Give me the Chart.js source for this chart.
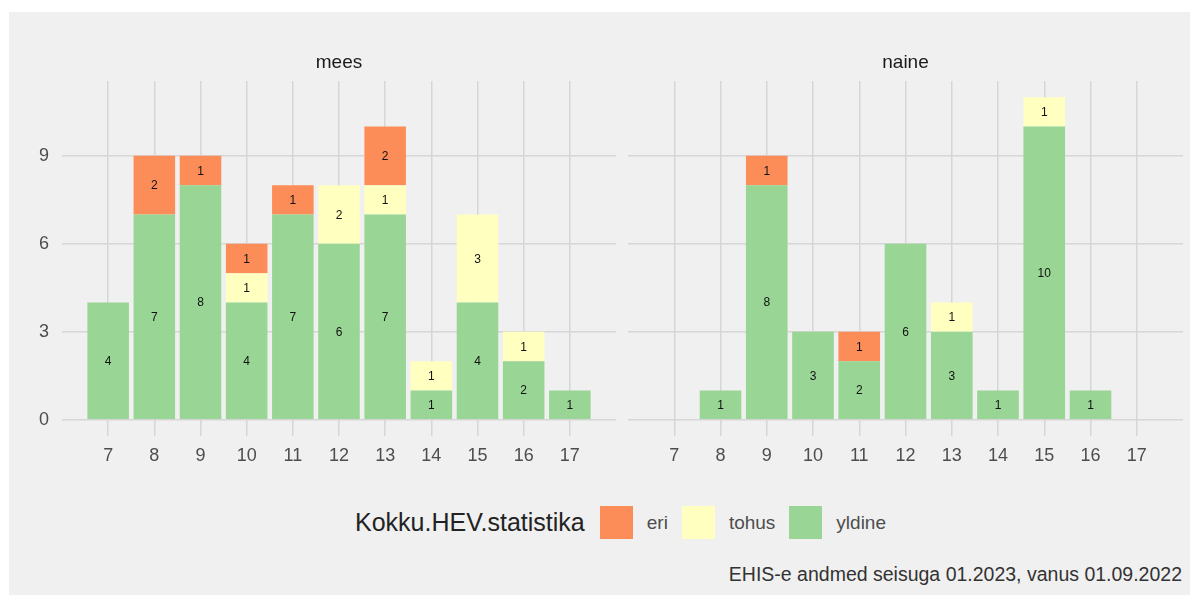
<!DOCTYPE html>
<html>
<head>
<meta charset="utf-8">
<script src="https://cdn.jsdelivr.net/npm/chart.js@4.4.1/dist/chart.umd.min.js"></script>
<style>
  body { margin: 0; background: #ffffff; font-family: "Liberation Sans", Arial, sans-serif; }
  #panel { position: absolute; left: 9px; top: 12px; width: 1181px; height: 583px; background: #f0f0f0; }
  canvas { position: absolute; }
  #legend { position: absolute; left: 355px; top: 506px; height: 33px; display: flex; align-items: center; white-space: nowrap; }
  #legend .title { font-size: 25px; margin-right: 15px; color: #222222; }
  #legend .key { width: 33px; height: 33px; margin-right: 14px; }
  #legend .lab { font-size: 19px; margin-right: 14px; color: #4d4d4d; }
  #caption { position: absolute; right: 17px; top: 563px; font-size: 19.5px; color: #333333; white-space: nowrap; }
</style>
</head>
<body>
<div id="panel"></div>
<canvas id="chart_mees" width="609" height="454" style="left:9px; top:12px;"></canvas>
<canvas id="chart_naine" width="564" height="454" style="left:621px; top:12px;"></canvas>
<div id="legend">
  <span class="title">Kokku.HEV.statistika</span>
  <span class="key" style="background:#fc8d59"></span><span class="lab">eri</span>
  <span class="key" style="background:#ffffbf"></span><span class="lab">tohus</span>
  <span class="key" style="background:#99d594"></span><span class="lab">yldine</span>
</div>
<div id="caption">EHIS-e andmed seisuga 01.2023, vanus 01.09.2022</div>
<script>
// ages on the x axis
const ages = [7, 8, 9, 10, 11, 12, 13, 14, 15, 16, 17];
const yTicks = [0, 3, 6, 9];

// mees
const mees_yldine = [4, 7, 8, 4, 7, 6, 7, 1, 4, 2, 1];
const mees_tohus  = [0, 0, 0, 1, 0, 2, 1, 1, 3, 1, 0];
const mees_eri    = [0, 2, 1, 1, 1, 0, 2, 0, 0, 0, 0];

// naine
const naine_yldine = [0, 1, 8, 3, 2, 6, 3, 1, 10, 1, 0];
const naine_tohus  = [0, 0, 0, 0, 0, 0, 1, 0, 1, 0, 0];
const naine_eri    = [0, 0, 1, 0, 1, 0, 0, 0, 0, 0, 0];

const colors = {
    eri: '#fc8d59',
    tohus: '#ffffbf',
    yldine: '#99d594'
};
const gridColor = 'rgb(214, 214, 214)';
const fontFamily = '"Liberation Sans", Arial, sans-serif';

function toPoints(values) {
    return values.map((v, i) => ({x: ages[i], y: v}));
}

// numbers in the middle of each segment + facet title
const barLabels = {
    id: 'barLabels',
    afterDatasetsDraw(chart, args, opts) {
        const ctx = chart.ctx;
        ctx.save();
        ctx.fillStyle = '#111111';
        ctx.font = '12px ' + fontFamily;
        ctx.textAlign = 'center';
        ctx.textBaseline = 'middle';
        chart.data.datasets.forEach((ds, di) => {
            const meta = chart.getDatasetMeta(di);
            meta.data.forEach((bar, i) => {
                const v = ds.data[i].y;
                if (!v) return;
                const p = bar.getProps(['x', 'y', 'base'], true);
                ctx.fillText(String(v), p.x, (p.y + p.base) / 2 + 1);
            });
        });
        const area = chart.chartArea;
        ctx.fillStyle = '#1a1a1a';
        ctx.font = '19px ' + fontFamily;
        ctx.fillText(opts.strip, (area.left + area.right) / 2, area.top - 18);
        ctx.restore();
    }
};

function makeChart(canvasId, strip, yldine, tohus, eri, yAxisWidth, showYLabels) {
    const ctx = document.getElementById(canvasId).getContext('2d');
    return new Chart(ctx, {
        type: 'bar',
        data: {
            datasets: [
                { label: 'yldine', data: toPoints(yldine), backgroundColor: colors.yldine },
                { label: 'tohus', data: toPoints(tohus), backgroundColor: colors.tohus },
                { label: 'eri', data: toPoints(eri), backgroundColor: colors.eri }
            ]
        },
        options: {
            responsive: false,
            animation: false,
            barPercentage: 0.9,
            categoryPercentage: 1,
            borderWidth: 0,
            layout: { padding: { top: 69, right: 2, bottom: 0, left: 0 } },
            plugins: {
                legend: { display: false },
                tooltip: { enabled: false },
                barLabels: { strip: strip }
            },
            scales: {
                x: {
                    type: 'linear',
                    stacked: true,
                    min: 6,
                    max: 18,
                    offset: false,
                    border: { display: false },
                    grid: { color: gridColor, lineWidth: 1.5, drawTicks: false, offset: false },
                    afterBuildTicks: scale => { scale.ticks = ages.map(a => ({value: a})); },
                    afterFit: scale => { scale.height = 30; },
                    ticks: {
                        color: '#4d4d4d',
                        padding: 9,
                        font: { size: 18, family: fontFamily },
                        maxRotation: 0,
                        autoSkip: false
                    }
                },
                y: {
                    stacked: true,
                    min: -0.55,
                    max: 11.55,
                    border: { display: false },
                    grid: { color: gridColor, lineWidth: 1.5, drawTicks: false },
                    afterBuildTicks: scale => { scale.ticks = yTicks.map(v => ({value: v})); },
                    afterFit: scale => { scale.width = yAxisWidth; },
                    ticks: {
                        display: showYLabels,
                        color: '#4d4d4d',
                        padding: 13,
                        font: { size: 18, family: fontFamily }
                    }
                }
            }
        },
        plugins: [barLabels]
    });
}

makeChart('chart_mees', 'mees', mees_yldine, mees_tohus, mees_eri, 53, true);
makeChart('chart_naine', 'naine', naine_yldine, naine_tohus, naine_eri, 7, false);
</script>
</body>
</html>
